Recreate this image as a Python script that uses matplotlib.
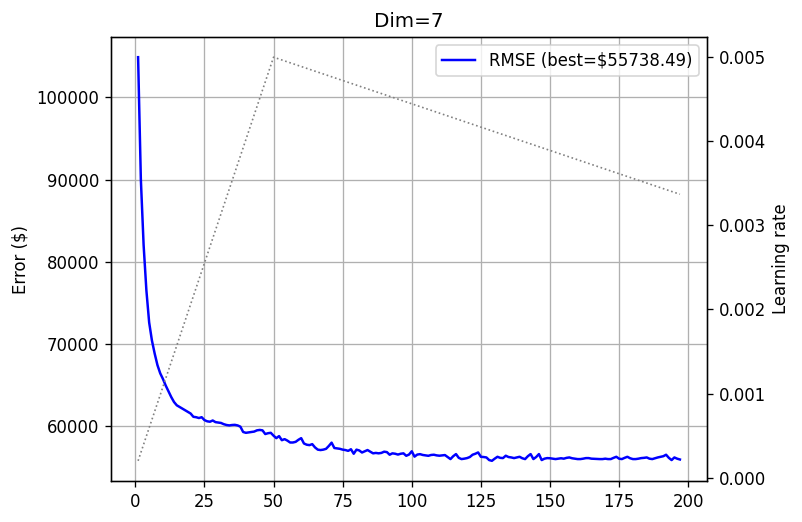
import numpy             as np
import matplotlib
matplotlib.use('Agg')
import matplotlib.pyplot as plt


# RMSE per epoch
epochs = list(range(1, 198))

rmse = [
    104900, 90000, 82000, 76500, 72600, 70400, 68800, 67400, 66400, 65700,
     64900, 64200, 63500, 62900, 62500, 62300, 62100, 61900, 61700, 61500,
     61100, 61050, 60950, 61050, 60700, 60550, 60500, 60650, 60450, 60400,
     60350, 60200, 60100, 60050, 60100, 60120, 60050, 59900, 59250, 59150,
     59200, 59250, 59300, 59450, 59500, 59450, 59000, 59100, 59150, 58800,
     58500, 58750, 58250, 58380, 58200, 57970, 57970, 58050, 58300, 58500,
     57850, 57700, 57650, 57770, 57370, 57100, 57050, 57100, 57200, 57550,
     57950, 57300, 57250, 57200, 57100, 57050, 56950, 57150, 56600, 57100,
     57000, 56750, 56900, 57050, 56850, 56650, 56700, 56650, 56700, 56850,
     56800, 56480, 56650, 56600, 56500, 56600, 56650, 56350, 56500, 56900,
     56250, 56500, 56550, 56450, 56400, 56350, 56450, 56480, 56400, 56360,
     56400, 56440, 56200, 55950, 56300, 56560, 56100, 55950, 56000, 56070,
     56200, 56480, 56600, 56760, 56230, 56200, 56150, 55830, 55738.49, 56000,
     56230, 56100, 56070, 56360, 56200, 56150, 56070, 56150, 56230, 56050,
     55950, 56300, 56560, 55950, 56200, 56560, 55830, 56000, 56070, 56050,
     56000, 55950, 56000, 56050, 56000, 56100, 56150, 56050, 56000, 55950,
     55950, 56000, 56070, 56070, 56000, 55980, 55950, 55950, 55950, 56000,
     55950, 55950, 56100, 56230, 56000, 55950, 56100, 56230, 56050, 55950,
     55950, 56000, 56070, 56100, 56150, 56000, 55950, 56050, 56150, 56230,
     56300, 56480, 56100, 55830, 56150, 56000, 55900,
]

# learning-rate schedule: warmup peak and end of run
lr_epochs = [1,      50,    197    ]
lr_values = [0.0002, 0.005, 0.00337]

best = min(rmse)


dpi = 119

fig = plt.figure(figsize = (802 / dpi, 522 / dpi), dpi = dpi)

ax1 = fig.add_axes([111 / 802, 1 - 481 / 522, (707 - 111) / 802, (481 - 37) / 522])

line, = ax1.plot(epochs, rmse, color = 'blue', linewidth = 1.5)

ax1.set_ylabel('Error ($)')
ax1.set_title('Dim=7')
ax1.grid(True)

ax2 = ax1.twinx()

ax2.plot(lr_epochs, lr_values, color = 'gray', linestyle = ':', linewidth = 1)

ax2.set_ylabel('Learning rate')

ax1.legend([line], ['RMSE (best=$%.2f)' % best], loc = 'upper right')

fig.savefig('out.png', dpi = dpi)
